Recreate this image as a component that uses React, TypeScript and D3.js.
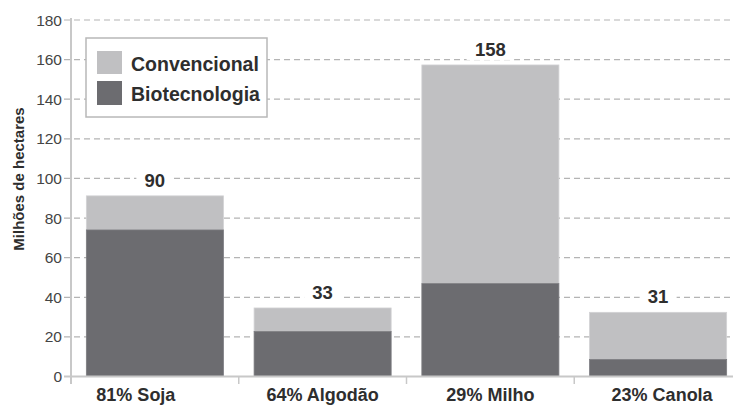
import React from "react";
import * as d3 from "d3";

const categories = ["81% Soja", "64% Algodão", "29% Milho", "23% Canola"];
const biotech = [74, 22.7, 46.9, 8.6];
const conventional = [17.2, 11.9, 110.4, 23.8];
const totalLabels = ["90", "33", "158", "31"];
const yTicks = [0, 20, 40, 60, 80, 100, 120, 140, 160, 180];
const seriesNames = ["Convencional", "Biotecnologia"];

const W = 733;
const H = 405;
const COL_CONV = "#c0c0c2";
const COL_BIO = "#6c6c70";
const TEXT = "#2e2e2e";
const labelDx = [-19, 0, 0, 4];

export default function App() {
  const x = d3.scaleBand<string>().domain(categories).range([71, 742]).paddingInner(0.183).paddingOuter(0.0915);
  const y = d3.scaleLinear().domain([0, 180]).range([376.5, 20]);
  const step = x.step();
  const font = "'Liberation Sans', Arial, Helvetica, sans-serif";

  return (
    <svg width={W} height={H} style={{ position: "absolute", left: 0, top: 0, background: "#fff" }} fontFamily={font}>
      <rect x={0} y={0} width={W} height={H} fill="#fff" />
      {yTicks.map((t) => (
        <line key={"g" + t} x1={64} x2={W} y1={y(t)} y2={y(t)} stroke="#b4b4b4" strokeWidth={1.2} strokeDasharray={t === 0 ? "none" : "6,4"} />
      ))}
      {categories.map((c, i) => {
        const x0 = x(c)!;
        const w = x.bandwidth();
        const b = biotech[i];
        const tot = b + conventional[i];
        return (
          <g key={c}>
            <rect x={x0} y={y(tot)} width={w} height={y(b) - y(tot)} fill={COL_CONV} stroke="#d2d2d4" strokeWidth={0.8} />
            <rect x={x0} y={y(b)} width={w} height={y(0) - y(b)} fill={COL_BIO} stroke="#7c7c80" strokeWidth={0.8} />
          </g>
        );
      })}
      {categories.map((c, i) => {
        const cx = x(c)! + x.bandwidth() / 2;
        const tot = biotech[i] + conventional[i];
        const yy = y(tot) - 9;
        const tw = totalLabels[i].length * 10.5;
        return (
          <g key={"v" + c}>
            <rect x={cx - tw / 2 - 8} y={yy - 16} width={tw + 16} height={20} fill="#fff" />
            <text x={cx} y={yy} textAnchor="middle" fontSize={18.5} fontWeight="bold" fill={TEXT}>
              {totalLabels[i]}
            </text>
          </g>
        );
      })}
      <line x1={71} x2={71} y1={18} y2={384} stroke="#c8c8c8" strokeWidth={2} />
      <line x1={64} x2={W} y1={y(0)} y2={y(0)} stroke="#c8c8c8" strokeWidth={2} />
      {[0, 1, 2, 3, 4].map((k) => (
        <line key={"xt" + k} x1={71 + k * step} x2={71 + k * step} y1={y(0)} y2={384} stroke="#c8c8c8" strokeWidth={1.5} />
      ))}
      {yTicks.map((t) => (
        <text key={"yt" + t} x={62} y={y(t) + 5.5} textAnchor="end" fontSize={15.5} fill="#444">
          {t}
        </text>
      ))}
      {categories.map((c, i) => (
        <text key={"xl" + c} x={x(c)! + x.bandwidth() / 2 + labelDx[i]} y={401} textAnchor="middle" fontSize={18} fontWeight="bold" fill={TEXT}>
          {c}
        </text>
      ))}
      <text transform={`translate(24,179) rotate(-90)`} textAnchor="middle" fontSize={15} fontWeight="bold" fill={TEXT}>
        Milhões de hectares
      </text>
      <rect x={86} y={38} width={181} height={79} fill="#fff" stroke="#b8b8b8" strokeWidth={1.5} />
      <rect x={97} y={51} width={25} height={23} fill={COL_CONV} />
      <rect x={97} y={81} width={25} height={24} fill={COL_BIO} />
      <text x={131} y={71} fontSize={19.5} fontWeight="bold" fill={TEXT}>
        {seriesNames[0]}
      </text>
      <text x={131} y={101} fontSize={19.5} fontWeight="bold" fill={TEXT}>
        {seriesNames[1]}
      </text>
    </svg>
  );
}
